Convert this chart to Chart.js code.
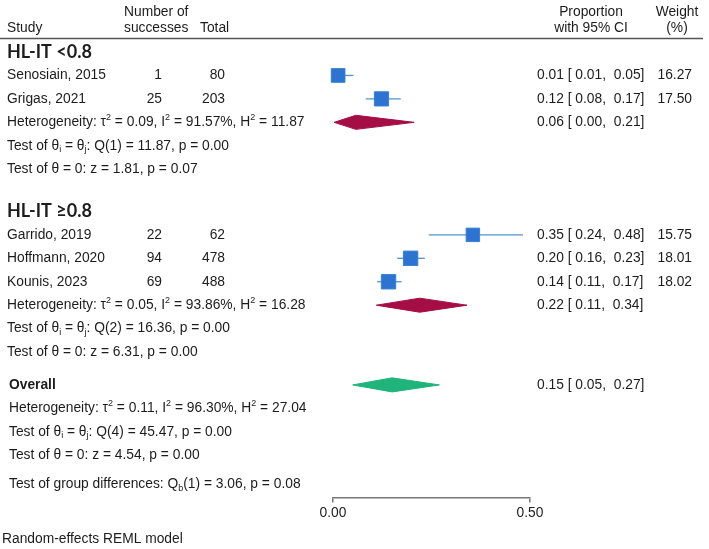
<!DOCTYPE html>
<html>
<head>
<meta charset="utf-8">
<script src="https://cdn.jsdelivr.net/npm/chart.js@4.4.1/dist/chart.umd.min.js"></script>
<style>
  body { margin: 0; background: #fff; }
</style>
</head>
<body>
<canvas id="forest" width="709" height="549"></canvas>
<script>
// study level data
const studies = ["Senosiain, 2015", "Grigas, 2021", "Garrido, 2019", "Hoffmann, 2020", "Kounis, 2023"];
const successes = [1, 25, 22, 94, 69];
const totals = [80, 203, 62, 478, 488];
const proportion = [0.013, 0.123, 0.355, 0.197, 0.141];
const ciLow = [0.006, 0.083, 0.243, 0.163, 0.112];
const ciHigh = [0.052, 0.172, 0.482, 0.233, 0.174];
const weights = [16.27, 17.50, 15.75, 18.01, 18.02];

// subgroups + overall (last entry = overall)
const groups = ["HL-IT <0.8", "HL-IT \u22650.8"];
const pooled = [0.058, 0.22, 0.15];
const pooledLow = [0.003, 0.11, 0.05];
const pooledHigh = [0.206, 0.34, 0.27];
const tau2 = ["0.09", "0.05", "0.11"];
const i2 = ["91.57", "93.86", "96.30"];
const h2 = ["11.87", "16.28", "27.04"];
const qDf = [1, 2, 4];
const qStat = ["11.87", "16.36", "45.47"];
const qP = ["0.00", "0.00", "0.00"];
const zStat = ["1.81", "6.31", "4.54"];
const zP = ["0.07", "0.00", "0.00"];
const groupDiff = ["3.06", "0.08"];

const xTicks = [0, 0.5];

// row layout (in row units, 0 = first subgroup heading)
const studyRows = [1, 2, 7.8, 8.8, 9.8];
const groupRows = [0, 6.8];
const pooledRows = [3, 10.8, 14.2];
const diffRow = 18.45;

const FONT = "'Liberation Sans', Arial, sans-serif";
const FS = 13.8;
const TEXT = "#1c1c1c";
const diamondColors = ["#a50d45", "#a50d45", "#1fb47b"];

function drawRich(ctx, str, x, y, size, align, weight, family) {
  const parts = [];
  for (let i = 0; i < str.length; i++) {
    const c = str[i];
    if ((c === "^" || c === "_") && i + 1 < str.length) {
      parts.push({ t: str[i + 1], k: c });
      i++;
    } else if (parts.length && !parts[parts.length - 1].k) {
      parts[parts.length - 1].t += c;
    } else {
      parts.push({ t: c, k: null });
    }
  }
  const small = Math.round(size * 0.62);
  const fontOf = p => `${weight} ${p.k ? small : size}px ${family}`;
  let total = 0;
  parts.forEach(p => { ctx.font = fontOf(p); p.w = ctx.measureText(p.t).width; total += p.w; });
  let cx = align === "right" ? x - total : align === "center" ? x - total / 2 : x;
  ctx.textAlign = "left";
  ctx.textBaseline = "middle";
  parts.forEach(p => {
    ctx.font = fontOf(p);
    const dy = p.k === "^" ? -size * 0.36 : p.k === "_" ? size * 0.28 : 0;
    ctx.fillText(p.t, cx, y + dy);
    cx += p.w;
  });
}

const tablePlugin = {
  id: "forestTable",
  afterDraw(chart) {
    const ctx = chart.ctx;
    const y = chart.scales.y;
    const py = r => y.getPixelForValue(r);
    ctx.save();
    ctx.fillStyle = TEXT;
    const t = (s, x, r, opt = {}) =>
      drawRich(ctx, s, x, py(r), opt.size || FS, opt.align || "left", opt.weight || "normal", opt.family || FONT);

    // column headers
    t("Study", 7, -1.03);
    t("Number of", 124, -1.7);
    t("successes", 124, -1.03);
    t("Total", 200, -1.03);
    t("Proportion", 591, -1.7, { align: "center" });
    t("with 95% CI", 591, -1.03, { align: "center" });
    t("Weight", 677, -1.7, { align: "center" });
    t("(%)", 677, -1.03, { align: "center" });

    ctx.strokeStyle = "#555";
    ctx.lineWidth = 1.5;
    ctx.beginPath();
    ctx.moveTo(0, py(-0.58));
    ctx.lineTo(703, py(-0.58));
    ctx.stroke();

    const ci = (e, l, h) => `${e.toFixed(2)} [ ${l.toFixed(2)},  ${h.toFixed(2)}]`;

    studies.forEach((s, i) => {
      const r = studyRows[i];
      t(s, 7, r);
      t(String(successes[i]), 162, r, { align: "right" });
      t(String(totals[i]), 225, r, { align: "right" });
      t(ci(proportion[i], ciLow[i], ciHigh[i]), 537, r);
      t(weights[i].toFixed(2), 692, r, { align: "right" });
    });

    groups.forEach((g, j) => {
      t(g, 7, groupRows[j], { size: 18, weight: "bold", family: "Lato, 'Open Sans', sans-serif" });
    });

    pooled.forEach((p, j) => {
      let r = pooledRows[j];
      const x0 = j === 2 ? 9 : 7;
      if (j === 2) {
        t("Overall", 9, r, { weight: "bold" });
        t(ci(p, pooledLow[j], pooledHigh[j]), 537, r);
        r += 1;
      } else {
        t(ci(p, pooledLow[j], pooledHigh[j]), 537, r);
      }
      t(`Heterogeneity: \u03c4^2 = ${tau2[j]}, I^2 = ${i2[j]}%, H^2 = ${h2[j]}`, x0, r);
      t(`Test of \u03b8_i = \u03b8_j: Q(${qDf[j]}) = ${qStat[j]}, p = ${qP[j]}`, x0, r + 1);
      t(`Test of \u03b8 = 0: z = ${zStat[j]}, p = ${zP[j]}`, x0, r + 2);
    });

    t(`Test of group differences: Q_b(1) = ${groupDiff[0]}, p = ${groupDiff[1]}`, 9, diffRow);
    t("Random-effects REML model", 2, 20.8);
    ctx.restore();
  }
};

const datasets = [];
datasets.push({
  type: "scatter",
  data: studies.map((s, i) => ({ x: proportion[i], y: studyRows[i] })),
  pointStyle: "rect",
  pointRadius: weights.map(w => Math.sqrt(w) * 2.4),
  backgroundColor: "#2c74cf",
  borderColor: "#3a80d4",
  borderWidth: 1,
  clip: false,
  order: 0
});
studies.forEach((s, i) => {
  datasets.push({
    type: "line",
    data: [{ x: ciLow[i], y: studyRows[i] }, { x: ciHigh[i], y: studyRows[i] }],
    borderColor: "#4f93cf",
    borderWidth: 1.3,
    pointRadius: 0,
    fill: false,
    clip: false,
    order: 2
  });
});
pooled.forEach((p, j) => {
  const r = pooledRows[j];
  datasets.push({
    type: "line",
    data: [
      { x: pooledLow[j], y: r },
      { x: p, y: r - 0.3 },
      { x: pooledHigh[j], y: r },
      { x: p, y: r + 0.3 },
      { x: pooledLow[j], y: r }
    ],
    borderColor: diamondColors[j],
    backgroundColor: diamondColors[j],
    borderWidth: 1,
    pointRadius: 0,
    tension: 0,
    fill: "shape",
    clip: false,
    order: 1
  });
});

new Chart(document.getElementById("forest"), {
  type: "scatter",
  data: { datasets },
  options: {
    responsive: false,
    animation: false,
    devicePixelRatio: 1,
    layout: { padding: { left: 333, right: 179, top: 52, bottom: 26 } },
    plugins: { legend: { display: false }, tooltip: { enabled: false } },
    scales: {
      x: {
        type: "linear",
        min: 0,
        max: 0.5,
        afterBuildTicks: s => { s.ticks = xTicks.map(v => ({ value: v })); },
        grid: { display: true, drawOnChartArea: false, drawTicks: true, tickLength: 5, color: "#777", lineWidth: 1.5 },
        border: { display: true, color: "#777", width: 1.5 },
        ticks: {
          callback: v => Number(v).toFixed(2),
          color: TEXT,
          font: { family: FONT, size: FS },
          padding: 2,
          maxRotation: 0,
          autoSkip: false
        }
      },
      y: { type: "linear", min: 0, max: 19, reverse: true, display: false }
    }
  },
  plugins: [tablePlugin]
});
</script>
</body>
</html>
